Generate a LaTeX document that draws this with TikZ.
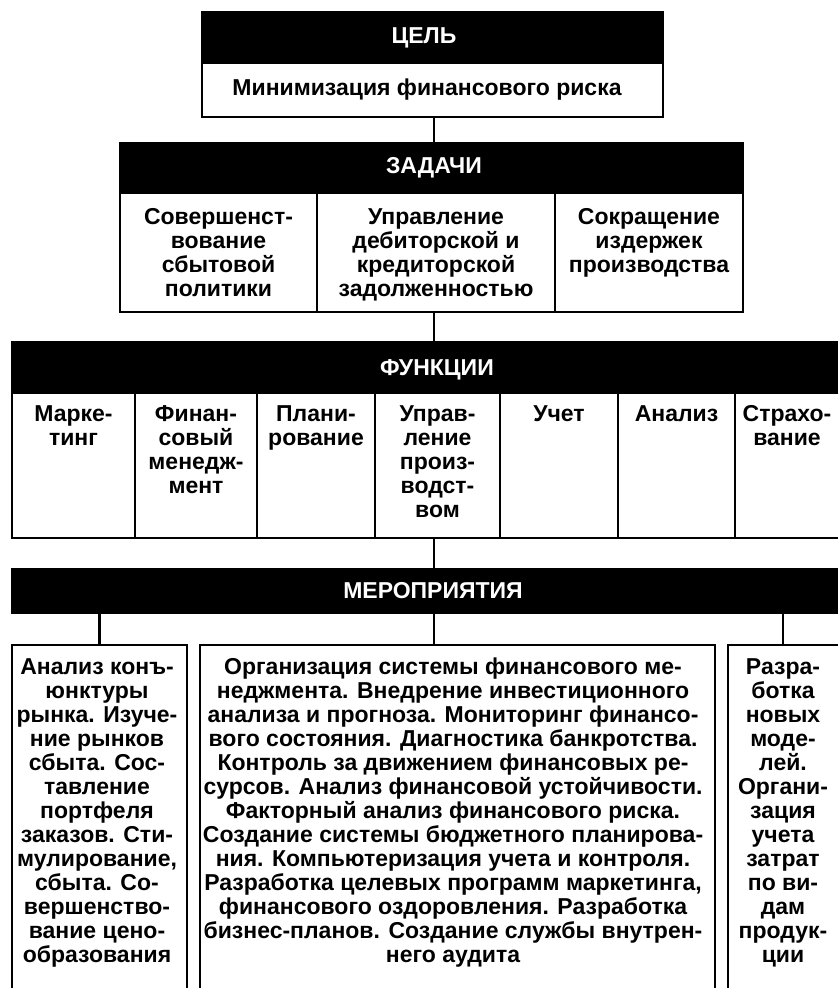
\documentclass[tikz,border=0pt]{standalone}
\usepackage{fontspec}
\setmainfont{Liberation Sans}
\usetikzlibrary{calc}
\newcommand\rbox[6]{\node[#1,minimum width={#4pt-#2pt},minimum height={#5pt-#3pt}] (#6) at ({(#2+#4)/2},{(#3+#5)/2}) {};}
\begin{document}
\begin{tikzpicture}[x=1pt,y=-1pt,
  cell/.style={draw=black,line width=2.8pt,inner sep=0pt,outer sep=0pt,fill=white},
  hdr/.style={draw=black,fill=black,line width=2.8pt,inner sep=0pt,outer sep=0pt},
  htxt/.style={text=white,font=\bfseries\fontsize{23}{23}\selectfont,inner sep=0pt},
  txt/.style={font=\bfseries\fontsize{23}{24}\selectfont,align=center,inner sep=0pt,anchor=north},
  conn/.style={draw=black,line width=2.8pt}]
\useasboundingbox (0,0) rectangle (838,988);
\clip (0,0) rectangle (838,988);
% ЦЕЛЬ
\rbox{hdr}{202}{12}{663}{63}{celh}
\rbox{cell}{202}{63}{663}{117}{celb}
\node[htxt] (celt) at (424,38) {ЦЕЛЬ};
\node[txt,anchor=center] (celx) at (427,90) {Минимизация финансового риска};
% ЗАДАЧИ
\rbox{hdr}{120}{143}{743}{193}{zadh}
\rbox{cell}{120}{193}{317}{312}{z1}
\rbox{cell}{317}{193}{555}{312}{z2}
\rbox{cell}{555}{193}{743}{312}{z3}
\node[htxt] (zadt) at (434,168) {ЗАДАЧИ};
\node[txt] (z1t) at (218.5,208) {Совершенст-\\вование\\сбытовой\\политики};
\node[txt] (z2t) at (436,208) {Управление\\дебиторской и\\кредиторской\\задолженностью};
\node[txt] (z3t) at (649,208) {Сокращение\\издержек\\производства};
% ФУНКЦИИ
\rbox{hdr}{12}{342}{845}{393}{funh}
\rbox{cell}{12}{393}{135}{538}{f1}
\rbox{cell}{135}{393}{257}{538}{f2}
\rbox{cell}{257}{393}{375}{538}{f3}
\rbox{cell}{375}{393}{500}{538}{f4}
\rbox{cell}{500}{393}{618}{538}{f5}
\rbox{cell}{618}{393}{735}{538}{f6}
\rbox{cell}{735}{393}{845}{538}{f7}
\node[htxt] (funt) at (437,370) {ФУНКЦИИ};
\node[txt] (f1t) at (73.5,405) {Марке-\\тинг};
\node[txt] (f2t) at (196,405) {Финан-\\совый\\менедж-\\мент};
\node[txt] (f3t) at (316,405) {Плани-\\рование};
\node[txt] (f4t) at (437.5,405) {Управ-\\ление\\произ-\\водст-\\вом};
\node[txt] (f5t) at (559,405) {Учет};
\node[txt] (f6t) at (676.5,405) {Анализ};
\node[txt] (f7t) at (787,405) {Страхо-\\вание};
% МЕРОПРИЯТИЯ
\rbox{hdr}{12}{569}{845}{613}{merh}
\node[htxt] (mert) at (433,591) {МЕРОПРИЯТИЯ};
\rbox{cell}{12}{645}{187}{1000}{b1}
\rbox{cell}{200}{645}{715}{1000}{b2}
\rbox{cell}{728}{645}{842}{1000}{b3}
\node[txt] (b1t) at (97,658) {Анализ конъ-\\юнктуры\\рынка. Изуче-\\ние рынков\\сбыта. Сос-\\тавление\\портфеля\\заказов. Сти-\\мулирование,\\сбыта. Со-\\вершенство-\\вание цено-\\образования};
\node[txt] (b2t) at (453,658) {Организация системы финансового ме-\\неджмента. Внедрение инвестиционного\\анализа и прогноза. Мониторинг финансо-\\вого состояния. Диагностика банкротства.\\Контроль за движением финансовых ре-\\сурсов. Анализ финансовой устойчивости.\\Факторный анализ финансового риска.\\Создание системы бюджетного планирова-\\ния. Компьютеризация учета и контроля.\\Разработка целевых программ маркетинга,\\финансового оздоровления. Разработка\\бизнес-планов. Создание службы внутрен-\\него аудита};
\node[txt] (b3t) at (783,658) {Разра-\\ботка\\новых\\моде-\\лей.\\Органи-\\зация\\учета\\затрат\\по ви-\\дам\\продук-\\ции};
% connectors
\coordinate (spine) at (434,0);
\coordinate (rspine) at (783,0);
\draw[conn] (celb.south -| spine) -- (zadh.north -| spine);
\draw[conn] (z2.south -| spine) -- (funh.north -| spine);
\draw[conn] (f4.south -| spine) -- (merh.north -| spine);
\draw[conn] (merh.south -| b1.north) -- (b1.north);
\draw[conn] (merh.south -| spine) -- (b2.north -| spine);
\draw[conn] (merh.south -| rspine) -- (b3.north -| rspine);
\end{tikzpicture}
\end{document}
